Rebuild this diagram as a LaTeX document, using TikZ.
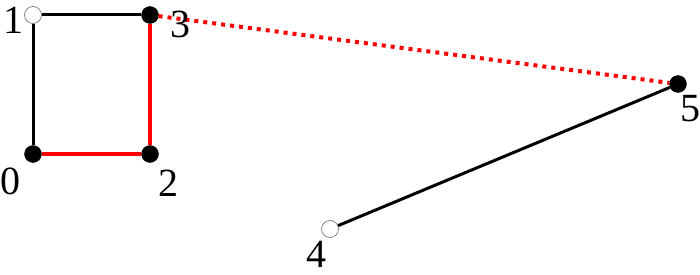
\documentclass[tikz,border=0pt]{standalone}
\usepackage{fontspec}
\setmainfont{Liberation Serif}
\usetikzlibrary{positioning}

\begin{document}
\begin{tikzpicture}[
  x=1pt, y=-1pt,
  % vertex styles
  vtx/.style={circle, inner sep=0pt, minimum size=17pt},
  full/.style={vtx, draw=black, fill=black},
  hollow/.style={vtx, draw=black!60, fill=white, line width=0.6pt},
  vlabel/.style={font=\fontsize{40}{44}\selectfont, inner sep=0pt},
  % edge styles
  plain/.style={draw=black, line width=3pt},
  matched/.style={draw=red, line width=4pt},
  dotedge/.style={draw=red, line width=4pt, dash pattern=on 4pt off 5pt}
]
  \useasboundingbox (0,0) rectangle (700,275);

  % vertices
  \node[hollow] (v1) at (33,15) {};
  \node[full]   (v3) at (150,15) {};
  \node[full]   (v0) at (33,154) {};
  \node[full]   (v2) at (150,154) {};
  \node[full]   (v5) at (678,84) {};
  \node[hollow] (v4) at (330,229) {};

  % edges
  \draw[plain] (v1) -- (v3);
  \draw[plain] (v1) -- (v0);
  \draw[matched] (v0) -- (v2);
  \draw[matched] (v2) -- (v3);
  \draw[dotedge] (v3) -- (v5);
  \draw[plain] (v4) -- (v5);

  % labels
  \node[vlabel] (l1) at (14,20) {1};
  \node[vlabel] (l3) at (180,24) {3};
  \node[vlabel] (l0) at (10,181) {0};
  \node[vlabel] (l2) at (168,183) {2};
  \node[vlabel] (l5) at (690,109) {5};
  \node[vlabel] (l4) at (316,254) {4};
\end{tikzpicture}
\end{document}
